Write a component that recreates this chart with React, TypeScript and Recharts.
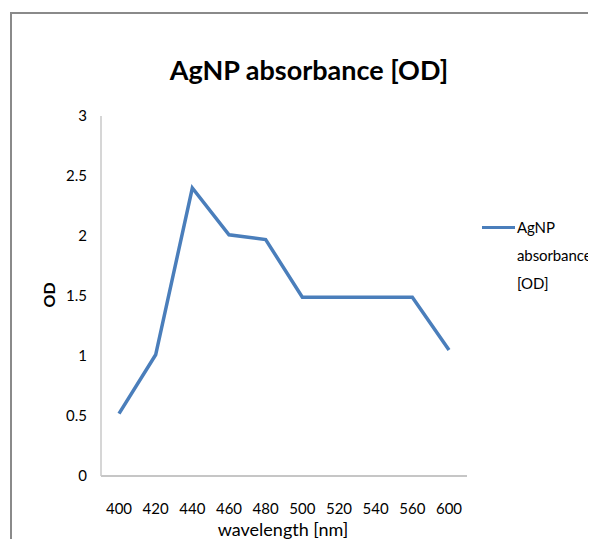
import React from 'react';
import { LineChart, Line, XAxis, YAxis, Legend } from 'recharts';

const wavelengths = ['400', '420', '440', '460', '480', '500', '520', '540', '560', '600'];
const absorbance = [0.52, 1.01, 2.4, 2.01, 1.97, 1.49, 1.49, 1.49, 1.49, 1.05];
const yTicks = [0, 0.5, 1, 1.5, 2, 2.5, 3];
const seriesName = 'AgNP absorbance [OD]';
const titleText = 'AgNP absorbance [OD]';
const xTitle = 'wavelength [nm]';
const yTitle = 'OD';

const data = wavelengths.map((wl, i) => ({ wl, od: absorbance[i] }));

const FONT = 'Lato, "Open Sans", "Liberation Sans", sans-serif';
const LINE_COLOR = '#4a7ebb';

const LegendContent = () => (
  <div style={{ display: 'flex', alignItems: 'flex-start', fontFamily: FONT, width: 140 }}>
    <span
      style={{
        display: 'inline-block',
        flex: '0 0 33px',
        width: 33,
        height: 3,
        background: LINE_COLOR,
        marginTop: 12.5,
        marginRight: 2,
      }}
    />
    <div style={{ fontSize: 15, lineHeight: '28px', color: '#000', whiteSpace: 'nowrap', letterSpacing: -0.1 }}>
      <div>AgNP</div>
      <div>absorbance</div>
      <div>[OD]</div>
    </div>
  </div>
);

export default function App() {
  return (
    <div style={{ position: 'relative', width: 588, height: 531, overflow: 'hidden', background: '#fff' }}>
      <div
        style={{
          position: 'absolute',
          left: 2,
          top: 4,
          width: 700,
          height: 700,
          borderTop: '2px solid #8a8a8a',
          borderLeft: '2px solid #8a8a8a',
          boxSizing: 'border-box',
        }}
      />
      <LineChart
        width={588}
        height={531}
        data={data}
        margin={{ top: 108, right: 129, bottom: 0, left: 0 }}
        style={{ position: 'absolute', left: 0, top: 0 }}
      >
        <text
          x={301}
          y={72}
          textAnchor="middle"
          fontFamily={FONT}
          fontWeight="bold"
          fontSize={27}
          fill="#000"
        >
          {titleText}
        </text>
        <text
          x={0}
          y={0}
          transform="translate(40,287) rotate(-90)"
          textAnchor="middle"
          dominantBaseline="central"
          fontFamily={FONT}
          fontWeight="bold"
          fontSize={16}
          fill="#000"
        >
          {yTitle}
        </text>
        <text
          x={275}
          y={528}
          textAnchor="middle"
          fontFamily={FONT}
          fontSize={18}
          fill="#000"
        >
          {xTitle}
        </text>
        <XAxis
          dataKey="wl"
          type="category"
          height={63}
          padding={{ left: 18, right: 18 }}
          tickLine={false}
          tickSize={6}
          tickMargin={21}
          axisLine={{ stroke: '#b3b3b3', strokeWidth: 1.5 }}
          tick={{ fontFamily: FONT, fontSize: 15, fill: '#000' }}
          interval={0}
        />
        <YAxis
          width={93}
          domain={[0, 3]}
          ticks={yTicks}
          tickLine={false}
          tickSize={6}
          tickMargin={8}
          axisLine={{ stroke: '#c8c8c8', strokeWidth: 1.5 }}
          tick={{ fontFamily: FONT, fontSize: 15, fill: '#000' }}
          interval={0}
        />
        <Legend
          layout="vertical"
          align="center"
          verticalAlign="middle"
          wrapperStyle={{ left: 474, top: 205, width: 140 }}
          content={<LegendContent />}
        />
        <Line
          type="linear"
          dataKey="od"
          name={seriesName}
          stroke={LINE_COLOR}
          strokeWidth={3.5}
          dot={false}
          activeDot={false}
          isAnimationActive={false}
        />
      </LineChart>
    </div>
  );
}
